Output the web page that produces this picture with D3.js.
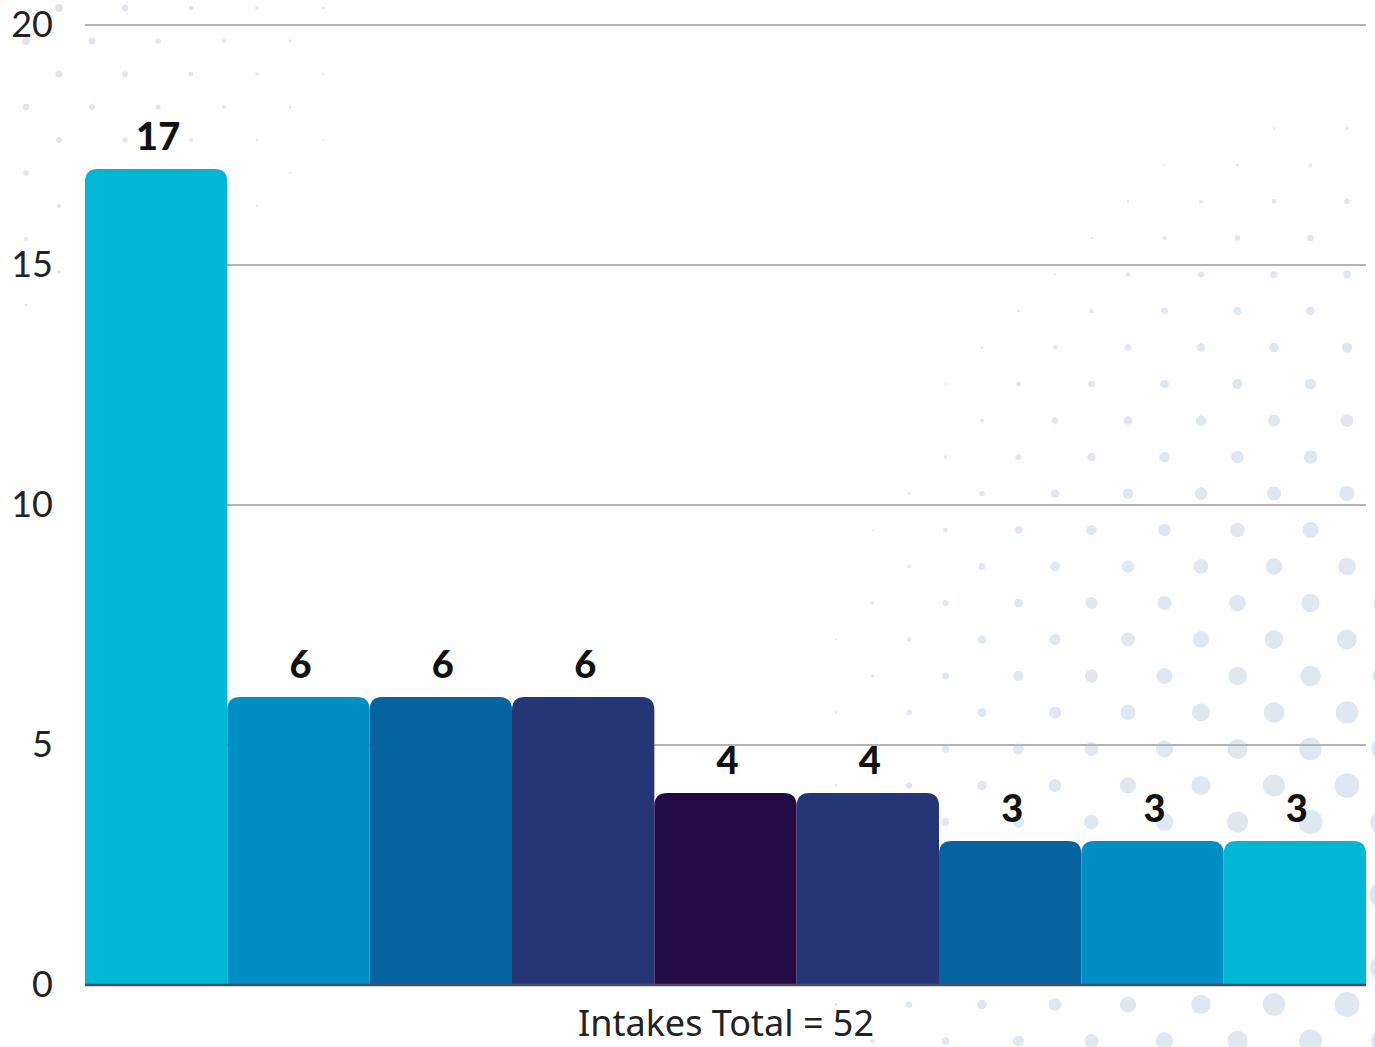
<!DOCTYPE html>
<html>
<head>
<meta charset="utf-8">
<script src="https://cdn.jsdelivr.net/npm/d3@7"></script>
<style>
  html, body { margin: 0; padding: 0; background: #fff; overflow: hidden; }
  svg { display: block; }
</style>
</head>
<body>
<div id="chart"></div>
<script>
// ---- data ----
const categories = ["c1", "c2", "c3", "c4", "c5", "c6", "c7", "c8", "c9"];
const values     = [17, 6, 6, 6, 4, 4, 3, 3, 3];
const barColors  = ["#00b8d6", "#008fc3", "#0563a0", "#253575", "#250b45",
                    "#253575", "#0563a0", "#008fc3", "#00b8d6"];
const yTicks     = [0, 5, 10, 15, 20];
const totalLabel = "Intakes Total = 52";

const width = 1375, height = 1047;
const margin = { top: 25, right: 9, bottom: 62, left: 85 };

const svg = d3.select("#chart").append("svg")
  .attr("width", width)
  .attr("height", height);

// ---- background dots (decoration) ----
const dots = svg.append("g").attr("class", "dots");

// bottom-right halftone
for (let row = 0; row < 40; row++) {
  const y = 19 + row * 36.5;
  const off = row % 2 ? 0 : 36.5;
  for (let x = 909 - 73 * 8 + off; x < width + 20; x += 73) {
    const dx = (1400 - x) * 1.5, dy = Math.abs(900 - y) * 1.1;
    const d = Math.sqrt(dx * dx + dy * dy);
    const r = 14.6 - d * 0.0154;
    if (r > 0.8) {
      dots.append("circle").attr("cx", x).attr("cy", y).attr("r", r)
        .attr("fill", "#dfe7f0");
    }
  }
}
// top-left faint dots
for (let row = 0; row < 10; row++) {
  const y = 8 + row * 33;
  const off = row % 2 ? 0 : 33;
  for (let x = 26 + off; x < 500; x += 66) {
    const d = Math.sqrt(x * x + y * y);
    const r = 4.5 * (1 - d / 430);
    if (r > 0.8) {
      dots.append("circle").attr("cx", x).attr("cy", y).attr("r", r)
        .attr("fill", "#e4e4ef");
    }
  }
}

// ---- scales ----
const x = d3.scaleBand()
  .domain(categories)
  .range([margin.left, width - margin.right])
  .padding(0);

const y = d3.scaleLinear()
  .domain([0, 20])
  .range([height - margin.bottom, margin.top]);

// ---- grid ----
svg.append("g")
  .selectAll("line")
  .data(yTicks.filter(t => t > 0))
  .enter()
  .append("line")
  .attr("x1", margin.left)
  .attr("x2", width - margin.right)
  .attr("y1", d => y(d))
  .attr("y2", d => y(d))
  .attr("stroke", "#b4b4b8")
  .attr("stroke-width", 2);

// ---- y axis labels ----
const yAxis = svg.append("g")
  .attr("transform", `translate(53,0)`)
  .call(d3.axisLeft(y).tickValues(yTicks).tickSize(0).tickPadding(0));
yAxis.select(".domain").remove();
yAxis.selectAll("text")
  .attr("font-family", "Lato, 'Open Sans', sans-serif")
  .attr("font-size", 36)
  .attr("fill", "#222");

// ---- bars (rounded top) ----
const rad = 13;
function barPath(d, i) {
  const x0 = x(categories[i]), x1 = x0 + x.bandwidth();
  const y0 = y(0), y1 = y(d);
  return `M${x0},${y0} V${y1 + rad} Q${x0},${y1} ${x0 + rad},${y1}
          H${x1 - rad} Q${x1},${y1} ${x1},${y1 + rad} V${y0} Z`;
}

svg.append("g")
  .selectAll("path")
  .data(values)
  .enter()
  .append("path")
  .attr("d", barPath)
  .attr("fill", (d, i) => barColors[i]);

// ---- value labels ----
svg.append("g")
  .selectAll("text")
  .data(values)
  .enter()
  .append("text")
  .attr("x", (d, i) => x(categories[i]) + x.bandwidth() / 2 + 2)
  .attr("y", d => y(d) - 19)
  .attr("text-anchor", "middle")
  .attr("font-family", "Lato, sans-serif")
  .attr("font-weight", 900)
  .attr("font-size", 38)
  .attr("fill", "#111")
  .text(d => d);

// ---- baseline ----
svg.append("line")
  .attr("x1", margin.left)
  .attr("x2", width - margin.right)
  .attr("y1", y(0))
  .attr("y2", y(0))
  .attr("stroke", "#4a4f60")
  .attr("stroke-width", 2.5);

// ---- total label ----
svg.append("text")
  .attr("x", 726)
  .attr("y", 1036)
  .attr("text-anchor", "middle")
  .attr("font-family", "'Noto Sans', sans-serif")
  .attr("font-size", 36)
  .attr("fill", "#222")
  .text(totalLabel);
</script>
</body>
</html>
